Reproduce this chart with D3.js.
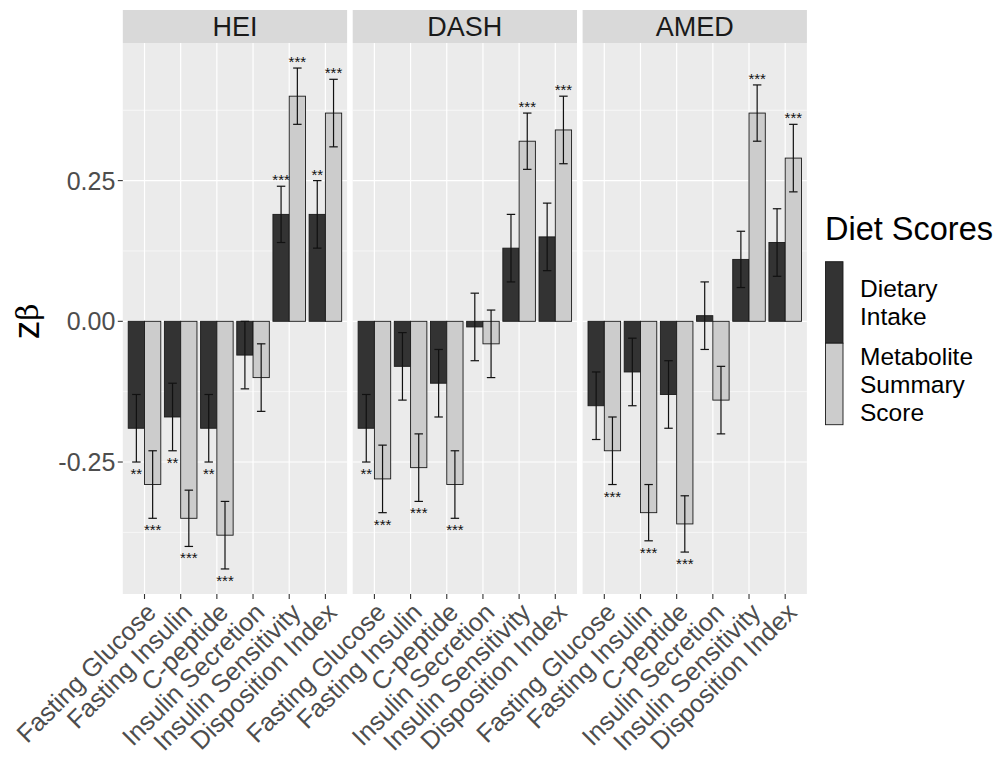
<!DOCTYPE html>
<html>
<head>
<meta charset="utf-8">
<script src="https://cdn.jsdelivr.net/npm/d3@7"></script>
<style>
  html, body { margin: 0; padding: 0; background: #ffffff; }
  svg { display: block; font-family: "Liberation Sans", Arial, sans-serif; }
</style>
</head>
<body>
<svg id="chart" width="998" height="757"></svg>
<script>
// ---------- data ----------
const panels = ["HEI", "DASH", "AMED"];
const categories = ["Fasting Glucose", "Fasting Insulin", "C-peptide",
  "Insulin Secretion", "Insulin Sensitivity", "Disposition Index"];
const seriesNames = ["Dietary Intake", "Metabolite Summary Score"];
const legendLines = [["Dietary", "Intake"], ["Metabolite", "Summary", "Score"]];
const seriesColors = ["#333333", "#cccccc"];
const yTicks = [-0.25, 0, 0.25];
const yTickLabels = ["-0.25", "0.00", "0.25"];

// Dietary Intake beta, lower, upper, stars (per panel)
const dietBeta = {
  HEI:  [-0.19, -0.17, -0.19, -0.06, 0.19, 0.19],
  DASH: [-0.19, -0.08, -0.11, -0.01, 0.13, 0.15],
  AMED: [-0.15, -0.09, -0.13, 0.01, 0.11, 0.14]
};
const dietLow = {
  HEI:  [-0.25, -0.23, -0.25, -0.12, 0.14, 0.13],
  DASH: [-0.25, -0.14, -0.17, -0.07, 0.07, 0.09],
  AMED: [-0.21, -0.15, -0.19, -0.05, 0.06, 0.08]
};
const dietHigh = {
  HEI:  [-0.13, -0.11, -0.13, 0.00, 0.24, 0.25],
  DASH: [-0.13, -0.02, -0.05, 0.05, 0.19, 0.21],
  AMED: [-0.09, -0.03, -0.07, 0.07, 0.16, 0.20]
};
const dietStars = {
  HEI:  ["**", "**", "**", "", "***", "**"],
  DASH: ["**", "", "", "", "", ""],
  AMED: ["", "", "", "", "", ""]
};

// Metabolite Summary Score beta, lower, upper, stars
const metaBeta = {
  HEI:  [-0.29, -0.35, -0.38, -0.10, 0.40, 0.37],
  DASH: [-0.28, -0.26, -0.29, -0.04, 0.32, 0.34],
  AMED: [-0.23, -0.34, -0.36, -0.14, 0.37, 0.29]
};
const metaLow = {
  HEI:  [-0.35, -0.40, -0.44, -0.16, 0.35, 0.31],
  DASH: [-0.34, -0.32, -0.35, -0.10, 0.27, 0.28],
  AMED: [-0.29, -0.39, -0.41, -0.20, 0.32, 0.23]
};
const metaHigh = {
  HEI:  [-0.23, -0.30, -0.32, -0.04, 0.45, 0.43],
  DASH: [-0.22, -0.20, -0.23, 0.02, 0.37, 0.40],
  AMED: [-0.17, -0.29, -0.31, -0.08, 0.42, 0.35]
};
const metaStars = {
  HEI:  ["***", "***", "***", "", "***", "***"],
  DASH: ["***", "***", "***", "", "***", "***"],
  AMED: ["***", "***", "***", "", "***", "***"]
};

// ---------- build records ----------
const records = [];
panels.forEach(p => {
  categories.forEach((c, i) => {
    records.push({panel: p, cat: c, series: seriesNames[0], beta: dietBeta[p][i], lo: dietLow[p][i], hi: dietHigh[p][i], stars: dietStars[p][i]});
    records.push({panel: p, cat: c, series: seriesNames[1], beta: metaBeta[p][i], lo: metaLow[p][i], hi: metaHigh[p][i], stars: metaStars[p][i]});
  });
});

// ---------- layout ----------
const svg = d3.select("#chart");
const panelLeft0 = 122.8, panelW = 224.3, panelGap = 5.6;
const stripTop = 10, stripH = 33;
const plotTop = stripTop + stripH, plotBottom = 594;

const dmin = d3.min(records, d => Math.min(d.lo, d.beta));
const dmax = d3.max(records, d => Math.max(d.hi, d.beta));
const pad = (dmax - dmin) * 0.05;
const y = d3.scaleLinear().domain([dmin - pad, dmax + pad]).range([plotBottom, plotTop]);

const panelX = d3.scaleBand().domain(panels)
  .range([panelLeft0, panelLeft0 + 3 * panelW + 2 * panelGap])
  .paddingInner(panelGap / (panelW + panelGap)).paddingOuter(0);

const x = d3.scalePoint().domain(categories).range([0, panelX.bandwidth()]).padding(0.6);
const step = x.step();
const xs = d3.scaleBand().domain(seriesNames).range([-0.45 * step, 0.45 * step]).padding(0);
const color = d3.scaleOrdinal().domain(seriesNames).range(seriesColors);

const minorTicks = [];
for (let i = 0; i < yTicks.length - 1; i++) minorTicks.push((yTicks[i] + yTicks[i + 1]) / 2);
minorTicks.unshift(yTicks[0] - 0.125);
minorTicks.push(yTicks[yTicks.length - 1] + 0.125);

panels.forEach(p => {
  const g = svg.append("g").attr("transform", `translate(${panelX(p)},0)`);
  const w = panelX.bandwidth();
  // strip
  g.append("rect").attr("x", 0).attr("y", stripTop).attr("width", w).attr("height", stripH).attr("fill", "#d9d9d9");
  g.append("text").attr("x", w / 2).attr("y", stripTop + stripH / 2).attr("dy", "0.36em")
    .attr("text-anchor", "middle").attr("font-size", 27).attr("fill", "#1a1a1a").text(p);
  // background
  g.append("rect").attr("x", 0).attr("y", plotTop).attr("width", w).attr("height", plotBottom - plotTop).attr("fill", "#ebebeb");
  // minor grid
  g.selectAll(".minor").data(minorTicks.filter(t => y(t) > plotTop && y(t) < plotBottom)).join("line")
    .attr("x1", 0).attr("x2", w).attr("y1", d => y(d)).attr("y2", d => y(d))
    .attr("stroke", "#ffffff").attr("stroke-width", 0.6);
  // major grid
  g.selectAll(".hmajor").data(yTicks).join("line")
    .attr("x1", 0).attr("x2", w).attr("y1", d => y(d)).attr("y2", d => y(d))
    .attr("stroke", "#ffffff").attr("stroke-width", 1.2);
  g.selectAll(".vmajor").data(categories).join("line")
    .attr("x1", d => x(d)).attr("x2", d => x(d)).attr("y1", plotTop).attr("y2", plotBottom)
    .attr("stroke", "#ffffff").attr("stroke-width", 1.2);

  const data = records.filter(r => r.panel === p);
  // bars
  g.selectAll(".bar").data(data).join("rect")
    .attr("x", d => x(d.cat) + xs(d.series))
    .attr("width", xs.bandwidth())
    .attr("y", d => y(Math.max(0, d.beta)))
    .attr("height", d => Math.abs(y(d.beta) - y(0)))
    .attr("fill", d => color(d.series))
    .attr("stroke", "#1a1a1a").attr("stroke-width", 0.9);
  // error bars
  const cap = xs.bandwidth() * 0.26;
  const eb = g.selectAll(".eb").data(data).join("g")
    .attr("transform", d => `translate(${x(d.cat) + xs(d.series) + xs.bandwidth() / 2},0)`);
  eb.append("line").attr("x1", 0).attr("x2", 0).attr("y1", d => y(d.lo)).attr("y2", d => y(d.hi))
    .attr("stroke", "#111").attr("stroke-width", 1.2);
  eb.append("line").attr("x1", -cap).attr("x2", cap).attr("y1", d => y(d.lo)).attr("y2", d => y(d.lo))
    .attr("stroke", "#111").attr("stroke-width", 1.2);
  eb.append("line").attr("x1", -cap).attr("x2", cap).attr("y1", d => y(d.hi)).attr("y2", d => y(d.hi))
    .attr("stroke", "#111").attr("stroke-width", 1.2);
  // stars
  eb.filter(d => d.stars).append("text")
    .attr("x", 0)
    .attr("y", d => d.beta < 0 ? y(d.lo) + 17 : y(d.hi) - 1)
    .attr("text-anchor", "middle").attr("font-size", 15).attr("fill", "#111")
    .text(d => d.stars);
  // x ticks & labels
  g.selectAll(".xt").data(categories).join("line")
    .attr("x1", d => x(d)).attr("x2", d => x(d)).attr("y1", plotBottom).attr("y2", plotBottom + 5)
    .attr("stroke", "#333333").attr("stroke-width", 1.1);
  g.selectAll(".xl").data(categories).join("text")
    .attr("transform", d => `translate(${x(d)},${plotBottom + 7}) rotate(-45)`)
    .attr("text-anchor", "end").attr("dy", "0.72em")
    .attr("font-size", 25.5).attr("fill", "#4d4d4d").text(d => d);
});

// y axis
const ya = svg.append("g");
ya.selectAll("line").data(yTicks).join("line")
  .attr("x1", panelLeft0 - 5).attr("x2", panelLeft0).attr("y1", d => y(d)).attr("y2", d => y(d))
  .attr("stroke", "#333333").attr("stroke-width", 1.1);
ya.selectAll("text").data(yTicks).join("text")
  .attr("x", panelLeft0 - 7.5).attr("y", d => y(d)).attr("dy", "0.36em")
  .attr("text-anchor", "end").attr("font-size", 25).attr("fill", "#4d4d4d")
  .text((d, i) => yTickLabels[i]);

// y title z-beta
const yt = svg.append("text")
  .attr("transform", `translate(39,${y(0)}) rotate(-90)`)
  .attr("text-anchor", "middle").attr("font-size", 37).attr("fill", "#000");
yt.append("tspan").text("z");
yt.append("tspan").attr("font-family", "'DejaVu Serif', serif").attr("font-size", 30).attr("dy", "-0.05em").text("β");

// legend
const lg = svg.append("g");
lg.append("text").attr("x", 825).attr("y", 240).attr("font-size", 32.5).attr("fill", "#000").text("Diet Scores");
const keyH = 81.5, keyW = 17.5, keyTop = 261.7;
seriesNames.forEach((s, i) => {
  const ky = keyTop + i * keyH;
  lg.append("rect").attr("x", 825.5).attr("y", ky).attr("width", keyW).attr("height", keyH)
    .attr("fill", color(s)).attr("stroke", "#1a1a1a").attr("stroke-width", 0.9);
  const lines = legendLines[i];
  const lh = 28;
  const cy = ky + keyH / 2;
  lines.forEach((t, j) => {
    lg.append("text").attr("x", 860)
      .attr("y", cy + (j - (lines.length - 1) / 2) * lh).attr("dy", "0.36em")
      .attr("font-size", 24.5).attr("fill", "#000").text(t);
  });
});
</script>
</body>
</html>
